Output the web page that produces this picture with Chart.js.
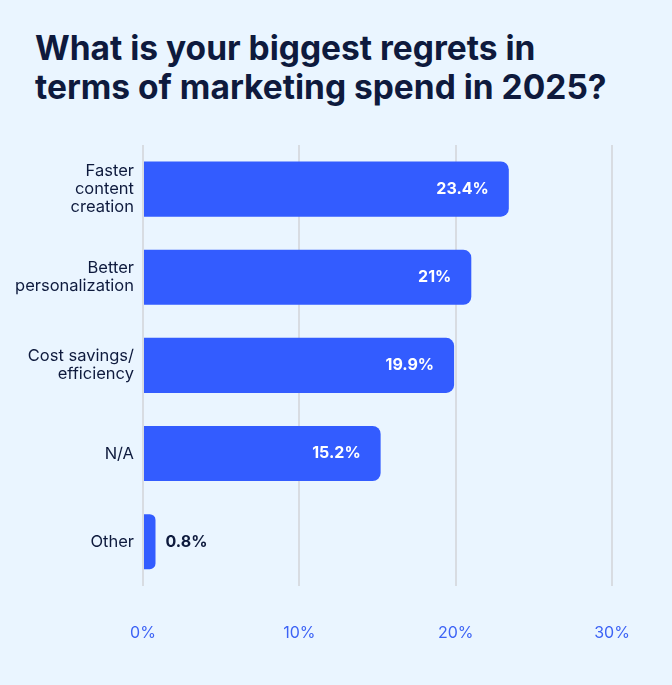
<!DOCTYPE html>
<html>
<head>
<meta charset="utf-8">
<script src="https://cdn.jsdelivr.net/npm/chart.js"></script>
<style>
  html, body { margin: 0; padding: 0; background: #EAF5FF; }
  #wrap { position: relative; width: 672px; height: 685px; }
  #title {
    position: absolute; left: 35px; top: 29px; margin: 0;
    font-family: Inter, sans-serif; font-weight: 700; font-size: 33.5px;
    line-height: 39px; color: #0E1A3D; letter-spacing: 0;
  }
  canvas { position: absolute; left: 0; top: 0; }
</style>
</head>
<body>
<div id="wrap">
  <h1 id="title">What is your biggest regrets in<br>terms of marketing spend in 2025?</h1>
  <canvas id="chart" width="672" height="685"></canvas>
</div>
<script>
// dados
const categories = [
  ['Faster', 'content', 'creation'],
  ['Better', 'personalization'],
  ['Cost savings/', 'efficiency'],
  'N/A',
  'Other'
];
const values = [23.4, 21, 19.9, 15.2, 0.8];
const xTicks = [0, 10, 20, 30];

const NAVY = '#0E1A3D';
const BLUE = '#335CFF';
const FONT = 'Inter, sans-serif';

// rótulos de valor nas barras
const valueLabels = {
  id: 'valueLabels',
  afterDatasetsDraw(chart) {
    const ctx = chart.ctx;
    const meta = chart.getDatasetMeta(0);
    ctx.save();
    ctx.font = `700 16px ${FONT}`;
    ctx.textBaseline = 'middle';
    meta.data.forEach((bar, i) => {
      const txt = values[i] + '%';
      const w = bar.x - bar.base;
      if (w > 70) {
        ctx.fillStyle = '#FFFFFF';
        ctx.textAlign = 'right';
        ctx.fillText(txt, bar.x - 20, bar.y);
      } else {
        ctx.fillStyle = NAVY;
        ctx.textAlign = 'left';
        ctx.fillText(txt, bar.x + 10, bar.y);
      }
    });
    ctx.restore();
  }
};

new Chart(document.getElementById('chart'), {
  type: 'bar',
  data: {
    labels: categories,
    datasets: [{
      data: values,
      backgroundColor: BLUE,
      borderRadius: 8,
      borderSkipped: 'start',
      barPercentage: 0.625,
      categoryPercentage: 1
    }]
  },
  options: {
    indexAxis: 'y',
    responsive: false,
    animation: false,
    layout: { padding: { top: 145, bottom: 4, left: 8, right: 60 } },
    plugins: {
      legend: { display: false },
      tooltip: { enabled: false }
    },
    scales: {
      x: {
        min: 0, max: 30,
        afterBuildTicks: s => { s.ticks = xTicks.map(v => ({ value: v })); },
        grid: { color: '#D8DCE2', lineWidth: 2, drawTicks: false },
        border: { display: false },
        ticks: {
          color: '#3D63F5', padding: 38,
          font: { family: FONT, size: 16 },
          callback: v => v + '%'
        }
      },
      y: {
        grid: { display: false, drawTicks: false },
        border: { display: false },
        afterFit: s => { s.width = 135; },
        ticks: {
          color: NAVY, padding: 9,
          font: { family: FONT, size: 16.5, lineHeight: 1.1 }
        }
      }
    }
  },
  plugins: [valueLabels]
});
</script>
</body>
</html>
